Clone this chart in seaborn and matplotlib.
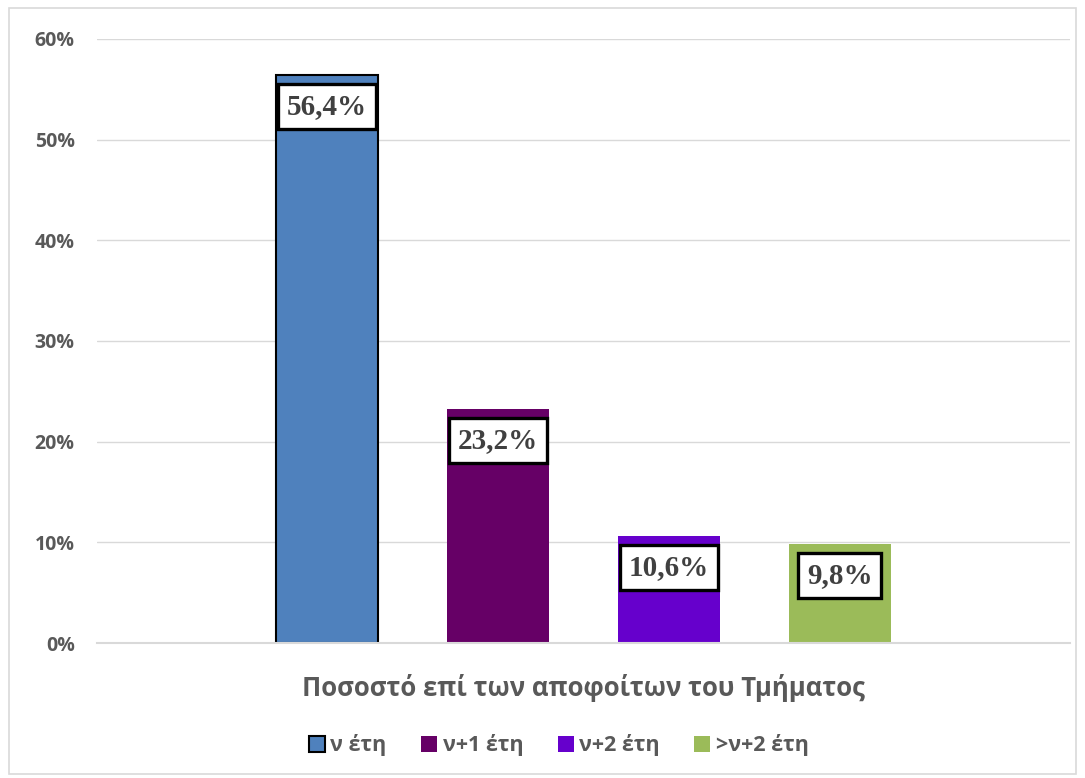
import matplotlib
matplotlib.use("Agg")
import matplotlib.pyplot as plt
import matplotlib.patches as mpatches
import seaborn as sns
import pandas as pd

# data
group = ["Ποσοστό επί των αποφοίτων του Τμήματος"] * 4
series = ["ν έτη", "ν+1 έτη", "ν+2 έτη", ">ν+2 έτη"]
values = [56.4, 23.2, 10.6, 9.8]
labels = ["56,4%", "23,2%", "10,6%", "9,8%"]
colors = ["#4F81BD", "#660066", "#6600CC", "#9BBB59"]

sns.set_style("white")
plt.rcParams['font.family'] = ['Open Sans', 'DejaVu Sans']

df = pd.DataFrame({"group": group, "series": series, "value": values})

fig = plt.figure(figsize=(10.85, 7.78), dpi=100)
ax = fig.add_axes([0.0894, 0.1735, 0.8966, 0.7765])

sns.barplot(data=df, x="group", y="value", hue="series", hue_order=series,
            palette=colors, width=0.703, gap=0.4, saturation=1,
            ax=ax, legend=False)

# only the first bar has a dark outline
for i, p in enumerate(ax.patches):
    if i == 0:
        p.set_edgecolor("black")
        p.set_linewidth(1.5)
    else:
        p.set_linewidth(0)

# value labels in white boxes, just under the top of each bar
for p, lab in zip(ax.patches, labels):
    ax.annotate(lab, (p.get_x() + p.get_width() / 2, p.get_height()),
                xytext=(0, -22.5), textcoords="offset points",
                ha="center", va="center", fontsize=21, fontweight="bold",
                family="Liberation Serif", color="#404040", zorder=5,
                bbox=dict(boxstyle="square,pad=0.3", fc="white", ec="black", lw=2.4))

ax.set_xlim(-0.5, 0.5)
ax.set_ylim(0, 60)
ax.set_yticks(range(0, 61, 10))
ax.set_yticklabels([f"{v}%" for v in range(0, 61, 10)])
ax.yaxis.grid(True, color="#D9D9D9", lw=1)
ax.set_axisbelow(True)
for s in ["top", "right", "left"]:
    ax.spines[s].set_visible(False)
ax.spines["bottom"].set_color("#D9D9D9")
ax.spines["bottom"].set_linewidth(1.5)
ax.tick_params(axis="y", length=0, pad=16, labelsize=14, labelcolor="#595959")
ax.tick_params(axis="x", length=0, pad=22, labelsize=18.5, labelcolor="#595959")
for t in ax.get_yticklabels() + ax.get_xticklabels():
    t.set_fontweight("bold")
ax.set_xlabel("")
ax.set_ylabel("")

# legend along the bottom
handles = [mpatches.Patch(facecolor=c, edgecolor="black" if i == 0 else c,
                          lw=1.5 if i == 0 else 0) for i, c in enumerate(colors)]
leg = fig.legend(handles, series, loc="center", bbox_to_anchor=(0.515, 0.042),
                 ncol=4, frameon=False, handlelength=0.75, handleheight=0.75,
                 handletextpad=0.25, columnspacing=1.6,
                 prop={"size": 15.5, "weight": "bold"})
for t in leg.get_texts():
    t.set_color("#595959")

# thin chart border
fig.patches.append(mpatches.Rectangle((0.008, 0.005), 0.984, 0.985, transform=fig.transFigure,
                                      fill=False, ec="#D9D9D9", lw=1.2))

fig.savefig("out.png", dpi=100)
